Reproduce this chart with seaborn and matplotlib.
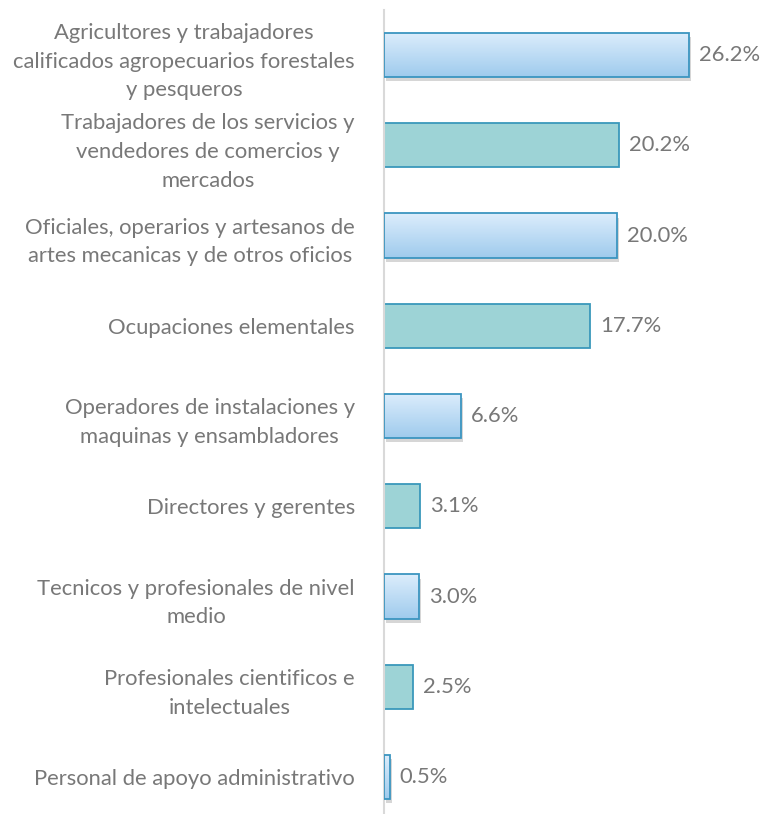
import numpy as np
import pandas as pd
import matplotlib
matplotlib.use("Agg")
import matplotlib.pyplot as plt
import matplotlib.patheffects as pe
from matplotlib.patches import Rectangle
import seaborn as sns

categorias = [
    "Agricultores y trabajadores\ncalificados agropecuarios forestales\ny pesqueros",
    "Trabajadores de los servicios y\nvendedores de comercios y\nmercados",
    "Oficiales, operarios y artesanos de\nartes mecanicas y de otros oficios",
    "Ocupaciones elementales",
    "Operadores de instalaciones y\nmaquinas y ensambladores",
    "Directores y gerentes",
    "Tecnicos y profesionales de nivel\nmedio",
    "Profesionales cientificos e\nintelectuales",
    "Personal de apoyo administrativo",
]
porcentajes = [26.2, 20.2, 20.0, 17.7, 6.6, 3.1, 3.0, 2.5, 0.5]

df = pd.DataFrame({"cat": categorias, "pct": porcentajes})

sns.set_style("white")
plt.rcParams["font.family"] = ["Lato", "DejaVu Sans"]
gris = "#787878"
fs = 15.8

fig = plt.figure(figsize=(7.6, 8.14), dpi=100)
# axes: left edge at x=384px, top at 10px, bottom at 814px
ax = fig.add_axes([384 / 760, 0, 1 - 384 / 760, 804 / 814])

sns.barplot(data=df, x="pct", y="cat", orient="h", ax=ax, width=0.49,
            color="#9dd3d6", edgecolor="#3a98bb", linewidth=1.3, saturation=1)

xmax = (760 - 384) / 11.64
ax.set_xlim(0, xmax)
ax.set_ylim(8.41, -0.5)

# gradient + shadow for the blue bars (even positions)
grad = np.linspace(0, 1, 64).reshape(-1, 1)
cmap = matplotlib.colors.LinearSegmentedColormap.from_list("azul", ["#dcedfc", "#9fcbed"])
for i, p in enumerate(list(ax.patches)):
    if i % 2 == 0:
        x0, y0 = p.get_x(), p.get_y()
        w, h = p.get_width(), p.get_height()
        p.set_facecolor("#9fcbed")
        p.set_edgecolor("none")
        p.set_zorder(1)
        p.set_path_effects([pe.SimplePatchShadow(offset=(1.5, -3), shadow_rgbFace="#8a8a8a", alpha=0.35),
                            pe.Normal()])
        im = ax.imshow(grad, cmap=cmap, aspect="auto", extent=(x0, x0 + w, y0 + h, y0),
                       origin="upper", zorder=2)
        im.set_clip_path(p)
        ax.add_patch(Rectangle((x0, y0), w, h, facecolor="none", edgecolor="#3b95c0",
                               linewidth=1.3, zorder=3))
ax.set_xlim(0, xmax)
ax.set_ylim(8.41, -0.5)

for i, v in enumerate(porcentajes):
    ax.annotate(f"{v:.1f}%", (v, i), xytext=(7, 0), textcoords="offset points",
                ha="left", va="center", fontsize=fs, color=gris)

ax.set_xlabel("")
ax.set_ylabel("")
ax.set_xticks([])
ax.set_yticklabels(categorias, multialignment="center", fontsize=fs, color=gris, linespacing=1.55)
ax.tick_params(axis="y", length=0, pad=21)
for s in ["top", "right", "bottom"]:
    ax.spines[s].set_visible(False)
ax.spines["left"].set_color("#d9d9d9")
ax.spines["left"].set_linewidth(1.5)

fig.savefig("out.png", dpi=100)
